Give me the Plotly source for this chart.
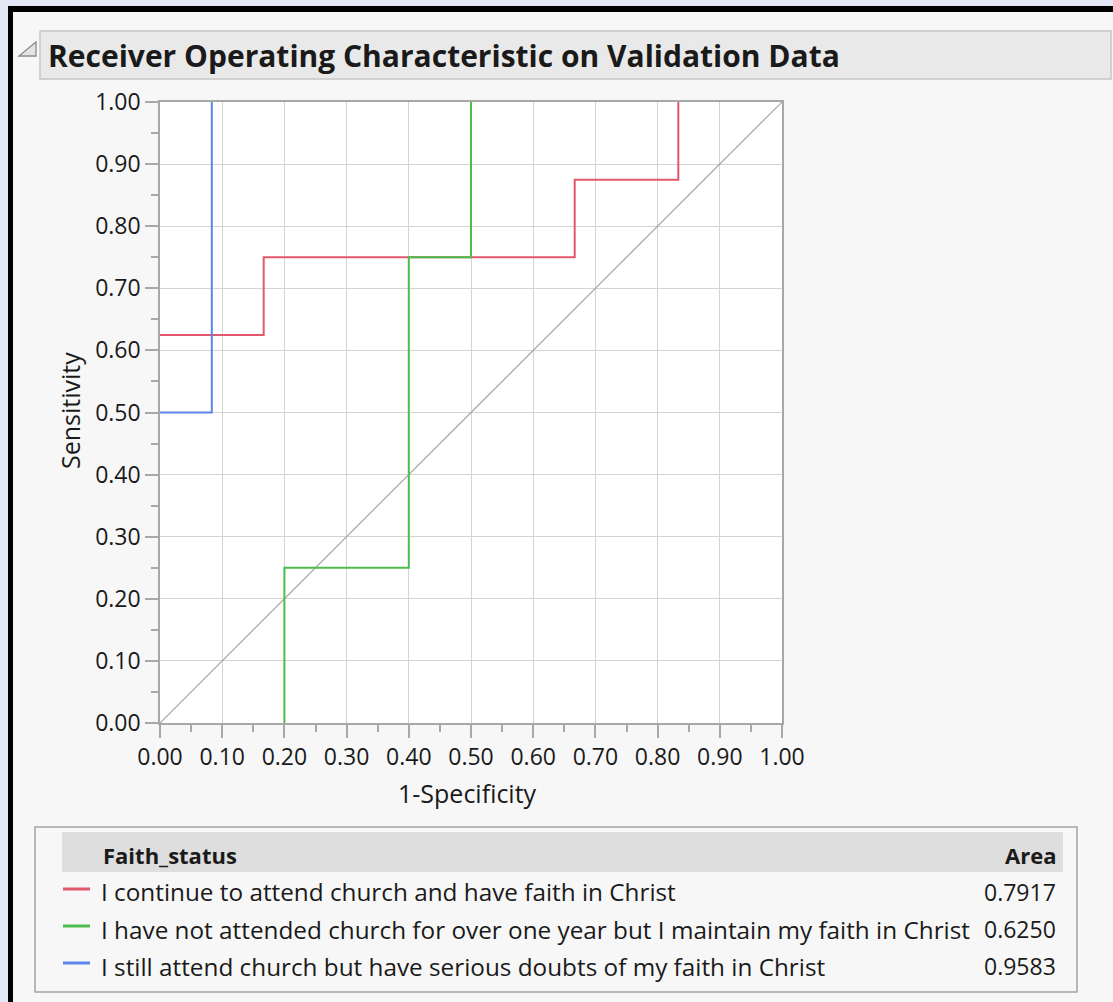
import plotly.graph_objects as go

# ---------------- data ----------------
series_names = [
    "I continue to attend church and have faith in Christ",
    "I have not attended church for over one year but I maintain my faith in Christ",
    "I still attend church but have serious doubts of my faith in Christ",
]
series_area = ["0.7917", "0.6250", "0.9583"]
series_colors = ["#e2576b", "#4cbc4c", "#5a85ea"]

red_x = [0.0, 0.1667, 0.1667, 0.6667, 0.6667, 0.8333, 0.8333]
red_y = [0.625, 0.625, 0.75, 0.75, 0.875, 0.875, 1.0]
green_x = [0.2, 0.2, 0.4, 0.4, 0.5, 0.5]
green_y = [0.0, 0.25, 0.25, 0.75, 0.75, 1.0]
blue_x = [0.0, 0.0833, 0.0833]
blue_y = [0.5, 0.5, 1.0]
diag_x = [0.0, 1.0]
diag_y = [0.0, 1.0]

tick_vals = [0.0, 0.1, 0.2, 0.3, 0.4, 0.5, 0.6, 0.7, 0.8, 0.9, 1.0]
tick_text = ["0.00", "0.10", "0.20", "0.30", "0.40", "0.50", "0.60", "0.70", "0.80", "0.90", "1.00"]
minor_vals = [0.05, 0.15, 0.25, 0.35, 0.45, 0.55, 0.65, 0.75, 0.85, 0.95]

title_text = "Receiver Operating Characteristic on Validation Data"
x_title = "1-Specificity"
y_title = "Sensitivity"
legend_header = "Faith_status"
legend_value_header = "Area"

# ---------------- layout geometry (pixels) ----------------
W, H = 1113, 1002
L, R, T, B = 160, 782, 102, 723
FONT = "Open Sans"
TXT = "#1a1a1a"


def px(x):
    return (x - L) / (R - L)


def py(y):
    return (B - y) / (B - T)


fig = go.Figure()

fig.add_trace(go.Scatter(x=diag_x, y=diag_y, mode="lines",
                         line=dict(color="#a6a6a6", width=1.2), showlegend=False, hoverinfo="skip"))
curves = [(red_x, red_y), (green_x, green_y), (blue_x, blue_y)]
for (xs, ys), name, col in zip(curves, series_names, series_colors):
    fig.add_trace(go.Scatter(x=xs, y=ys, mode="lines", name=name,
                             line=dict(color=col, width=2), showlegend=False))

axis_common = dict(
    range=[0, 1], tickmode="array", tickvals=tick_vals, ticktext=tick_text,
    showgrid=True, gridcolor="#d4d4d4", gridwidth=1.4,
    showline=True, linecolor="#a8a8a8", linewidth=1.5, mirror=True,
    ticks="outside", ticklen=13, tickwidth=1.5, tickcolor="#a8a8a8",
    tickfont=dict(family=FONT, size=23, color=TXT),
    zeroline=False, fixedrange=True,
    minor=dict(tickmode="array", tickvals=minor_vals,
               ticks="outside", ticklen=7, tickwidth=1.5, tickcolor="#a8a8a8", showgrid=False),
)
fig.update_xaxes(**axis_common)
fig.update_yaxes(**axis_common)

shapes = []
annotations = []

# outer window frame
shapes.append(dict(type="rect", xref="paper", yref="paper", x0=px(0), x1=px(8), y0=py(H), y1=py(0),
                   fillcolor="#e3e7f6", line=dict(width=0), layer="above"))
shapes.append(dict(type="rect", xref="paper", yref="paper", x0=px(0), x1=px(W), y0=py(6), y1=py(0),
                   fillcolor="#e3e7f6", line=dict(width=0), layer="above"))
shapes.append(dict(type="rect", xref="paper", yref="paper", x0=px(8), x1=px(13), y0=py(H), y1=py(6),
                   fillcolor="#000000", line=dict(width=0), layer="above"))
shapes.append(dict(type="rect", xref="paper", yref="paper", x0=px(8), x1=px(W), y0=py(12), y1=py(6),
                   fillcolor="#000000", line=dict(width=0), layer="above"))

# title bar
shapes.append(dict(type="rect", xref="paper", yref="paper", x0=px(40), x1=px(1111), y0=py(79), y1=py(31),
                   fillcolor="#e9e9e9", line=dict(color="#c6c6c6", width=1.5), layer="above"))
# disclosure triangle
tri = f"M {px(19)},{py(56)} L {px(36)},{py(56)} L {px(36)},{py(42)} Z"
shapes.append(dict(type="path", xref="paper", yref="paper", path=tri,
                   fillcolor="#e4e4e4", line=dict(color="#8c8c8c", width=1.3), layer="above"))
annotations.append(dict(xref="paper", yref="paper", x=px(46), y=py(56), xanchor="left", yanchor="middle",
                        text=f"<b>{title_text}</b>", showarrow=False,
                        font=dict(family=FONT, size=30, color=TXT)))

# axis titles
annotations.append(dict(xref="paper", yref="paper", x=px(467), y=py(793), xanchor="center", yanchor="middle",
                        text=x_title, showarrow=False, font=dict(family=FONT, size=25, color=TXT)))
annotations.append(dict(xref="paper", yref="paper", x=px(70), y=py(411), xanchor="center", yanchor="middle",
                        text=y_title, textangle=-90, showarrow=False, font=dict(family=FONT, size=25, color=TXT)))

# legend table
shapes.append(dict(type="rect", xref="paper", yref="paper", x0=px(35), x1=px(1077), y0=py(992), y1=py(827),
                   fillcolor="rgba(0,0,0,0)", line=dict(color="#a4a4a4", width=1.5), layer="above"))
shapes.append(dict(type="rect", xref="paper", yref="paper", x0=px(62), x1=px(1063), y0=py(872), y1=py(832),
                   fillcolor="#dedede", line=dict(width=0), layer="above"))
annotations.append(dict(xref="paper", yref="paper", x=px(101), y=py(855), xanchor="left", yanchor="middle",
                        text=f"<b>{legend_header}</b>", showarrow=False, font=dict(family=FONT, size=22, color=TXT)))
annotations.append(dict(xref="paper", yref="paper", x=px(1058), y=py(855), xanchor="right", yanchor="middle",
                        text=f"<b>{legend_value_header}</b>", showarrow=False, font=dict(family=FONT, size=22, color=TXT)))

row_y = [892, 929, 966]
for yy, name, area, col in zip(row_y, series_names, series_area, series_colors):
    shapes.append(dict(type="line", xref="paper", yref="paper", x0=px(63), x1=px(90), y0=py(yy - 3), y1=py(yy - 3),
                       line=dict(color=col, width=3), layer="above"))
    annotations.append(dict(xref="paper", yref="paper", x=px(99), y=py(yy), xanchor="left", yanchor="middle",
                            text=name, showarrow=False, font=dict(family=FONT, size=24.3, color=TXT)))
    annotations.append(dict(xref="paper", yref="paper", x=px(1058), y=py(yy), xanchor="right", yanchor="middle",
                            text=area, showarrow=False, font=dict(family=FONT, size=23, color=TXT)))

fig.update_layout(
    width=W, height=H, autosize=False,
    margin=dict(l=L, r=W - R, t=T, b=H - B, pad=0),
    paper_bgcolor="#f7f7f7", plot_bgcolor="#ffffff",
    shapes=shapes, annotations=annotations, showlegend=False,
    font=dict(family=FONT, color=TXT),
)

fig.write_html("out.html", config={"displayModeBar": False},
               post_script="document.body.style.margin='0';document.body.style.padding='0';")
